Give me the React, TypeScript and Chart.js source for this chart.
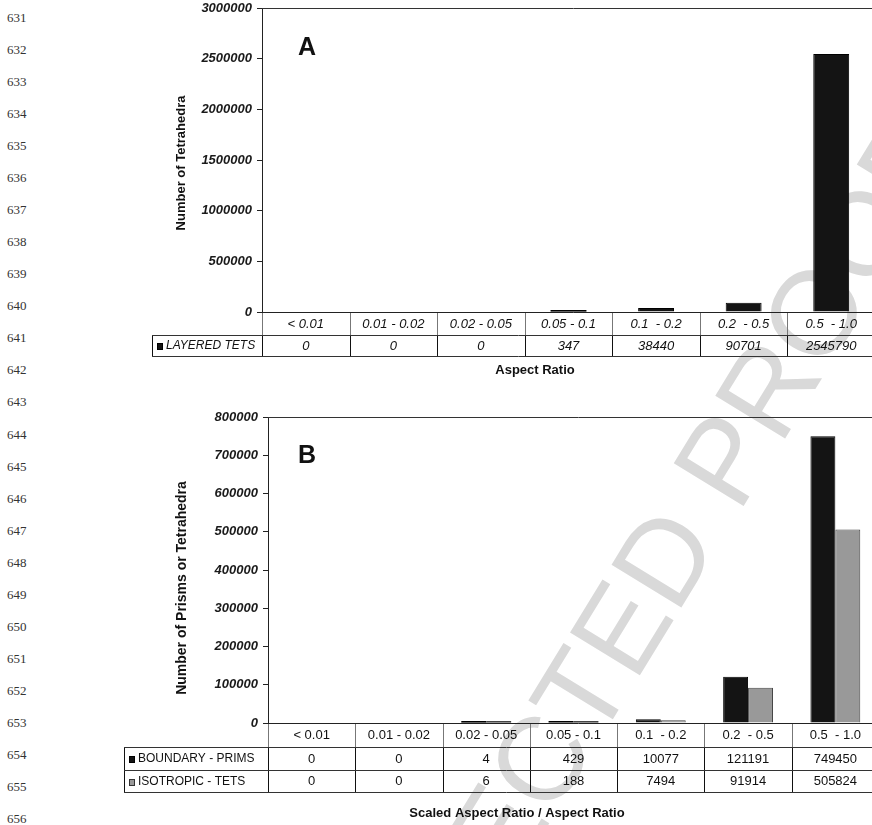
import React, { useEffect, useRef } from "react";
import { Chart, registerables } from "chart.js";

Chart.register(...registerables);

const FONT = '"Liberation Sans", Arial, Helvetica, sans-serif';

// ---------- data ----------
const categoriesA = ["< 0.01", "0.01 - 0.02", "0.02 - 0.05", "0.05 - 0.1", "0.1  - 0.2", "0.2  - 0.5", "0.5  - 1.0"];
const layeredTets = [0, 0, 0, 347, 38440, 90701, 2545790];

const categoriesB = ["< 0.01", "0.01 - 0.02", "0.02 - 0.05", "0.05 - 0.1", "0.1  - 0.2", "0.2  - 0.5", "0.5  - 1.0"];
const boundaryPrims = [0, 0, 4, 429, 10077, 121191, 749450];
const isotropicTets = [0, 0, 6, 188, 7494, 91914, 505824];

const yMaxA = 3000000;
const yStepA = 500000;
const yMaxB = 800000;
const yStepB = 100000;

const lineNumbers = [631, 632, 633, 634, 635, 636, 637, 638, 639, 640, 641, 642, 643, 644, 645, 646, 647, 648, 649, 650, 651, 652, 653, 654, 655, 656];
const watermarkText = "CORRECTED PROOF";

// ---------- helpers ----------
type TableRow = { label: string; swatch: string; swatchBorder: string; values: number[] };
type PanelCfg = {
  categories: string[];
  rows: TableRow[];
  rowHeights: number[];
  legendLeft: number;
  cellFont: string;
  legendFont: string;
  xTitle: string;
  xTitleX: number;
  xTitleY: number;
  yTitle: string;
  yTitleX: number;
  yTitleY: number;
  yTitleFont: string;
  panel: string;
  panelX: number;
  panelBaseline: number;
};

function hline(ctx: CanvasRenderingContext2D, x1: number, x2: number, y: number, color: string, w = 1) {
  ctx.save();
  ctx.strokeStyle = color;
  ctx.lineWidth = w;
  ctx.beginPath();
  const yy = Math.round(y) + (w % 2 ? 0.5 : 0);
  ctx.moveTo(x1, yy);
  ctx.lineTo(x2, yy);
  ctx.stroke();
  ctx.restore();
}
function vline(ctx: CanvasRenderingContext2D, x: number, y1: number, y2: number, color: string, w = 1) {
  ctx.save();
  ctx.strokeStyle = color;
  ctx.lineWidth = w;
  ctx.beginPath();
  const xx = Math.round(x) + (w % 2 ? 0.5 : 0);
  ctx.moveTo(xx, y1);
  ctx.lineTo(xx, y2);
  ctx.stroke();
  ctx.restore();
}

function panelPlugin(cfg: PanelCfg) {
  return {
    id: "panelTable",
    afterDatasetsDraw(chart: any) {
      const ctx: CanvasRenderingContext2D = chart.ctx;
      chart.data.datasets.forEach((ds: any, di: number) => {
        const meta = chart.getDatasetMeta(di);
        meta.data.forEach((el: any, i: number) => {
          const v = ds.data[i];
          const p = el.getProps(["x", "y", "base", "width"], true);
          if (v > 0 && Math.abs(p.base - p.y) < 1.5) {
            ctx.save();
            ctx.fillStyle = ds.borderColor;
            ctx.fillRect(p.x - p.width / 2, p.base - 1.5, p.width, 1.5);
            ctx.restore();
          }
        });
      });
    },
    afterDraw(chart: any) {
      const ctx: CanvasRenderingContext2D = chart.ctx;
      const { left, right, top, bottom } = chart.chartArea;
      const xs = chart.scales.x;
      const n = cfg.categories.length;
      const cw = xs.getPixelForValue(1) - xs.getPixelForValue(0);
      const edges: number[] = [];
      for (let i = 0; i < n; i++) edges.push(xs.getPixelForValue(i) - cw / 2);
      edges.push(xs.getPixelForValue(n - 1) + cw / 2);

      // frame top
      hline(ctx, left, right + 10, top, "#333");

      const ys = [bottom];
      cfg.rowHeights.forEach((h) => ys.push(ys[ys.length - 1] + h));
      const last = ys[ys.length - 1];

      // verticals
      edges.forEach((x) => {
        vline(ctx, x, ys[0], ys[1], "#777");
        vline(ctx, x, ys[1], last, "#111");
      });
      vline(ctx, cfg.legendLeft, ys[1], last, "#111");
      // horizontals
      hline(ctx, left - 0.5, right + 10, ys[0], "#222");
      for (let r = 1; r < ys.length; r++) hline(ctx, cfg.legendLeft, right + 10, ys[r], "#333");

      ctx.save();
      ctx.fillStyle = "#111";
      ctx.textAlign = "center";
      ctx.textBaseline = "middle";
      ctx.font = cfg.cellFont;
      cfg.categories.forEach((c, i) => {
        ctx.fillText(c, xs.getPixelForValue(i), (ys[0] + ys[1]) / 2 + 0.5);
      });
      cfg.rows.forEach((row, r) => {
        const cy = (ys[r + 1] + ys[r + 2]) / 2 + 0.5;
        row.values.forEach((v, i) => {
          ctx.fillText(String(v), xs.getPixelForValue(i), cy);
        });
        // legend
        ctx.fillStyle = row.swatch;
        ctx.fillRect(cfg.legendLeft + 5, Math.round(cy) - 3, 6, 7);
        ctx.strokeStyle = row.swatchBorder;
        ctx.lineWidth = 1;
        ctx.strokeRect(cfg.legendLeft + 5.5, Math.round(cy) - 2.5, 5, 6);
        ctx.fillStyle = "#111";
        ctx.textAlign = "left";
        ctx.font = cfg.legendFont;
        ctx.fillText(row.label, cfg.legendLeft + 14, cy);
        ctx.textAlign = "center";
        ctx.font = cfg.cellFont;
      });

      // x title
      ctx.font = `bold 13px ${FONT}`;
      ctx.fillText(cfg.xTitle, cfg.xTitleX, cfg.xTitleY);

      // y title
      ctx.save();
      ctx.translate(cfg.yTitleX, cfg.yTitleY);
      ctx.rotate(-Math.PI / 2);
      ctx.font = cfg.yTitleFont;
      ctx.fillText(cfg.yTitle, 0, 0);
      ctx.restore();

      // panel letter
      ctx.textAlign = "left";
      ctx.textBaseline = "alphabetic";
      ctx.font = `bold 25px ${FONT}`;
      ctx.fillText(cfg.panel, cfg.panelX, cfg.panelBaseline);
      ctx.restore();
    },
  };
}

function yScale(max: number, step: number, width: number) {
  return {
    min: 0,
    max,
    ticks: {
      stepSize: step,
      font: { family: FONT, size: 13, style: "italic" as const, weight: "bold" as const },
      color: "#1a1a1a",
      padding: 5,
      callback: (v: any) => String(v),
    },
    grid: { drawOnChartArea: false, drawTicks: true, tickLength: 5, color: "#222", lineWidth: 1 },
    border: { display: true, color: "#222", width: 1 },
    afterFit: (s: any) => {
      s.width = width;
      s.paddingTop = 0;
      s.paddingBottom = 0;
    },
  };
}

export default function App() {
  const refA = useRef<HTMLCanvasElement>(null);
  const refB = useRef<HTMLCanvasElement>(null);

  useEffect(() => {
    const cfgA: PanelCfg = {
      categories: categoriesA,
      rows: [{ label: "LAYERED TETS", swatch: "#141414", swatchBorder: "#000", values: layeredTets }],
      rowHeights: [23, 21],
      legendLeft: 152,
      cellFont: `italic 13px ${FONT}`,
      legendFont: `italic 12px ${FONT}`,
      xTitle: "Aspect Ratio",
      xTitleX: 535,
      xTitleY: 370,
      yTitle: "Number of Tetrahedra",
      yTitleX: 181,
      yTitleY: 163,
      yTitleFont: `bold 13px ${FONT}`,
      panel: "A",
      panelX: 298,
      panelBaseline: 55,
    };
    const chartA = new Chart(refA.current as HTMLCanvasElement, {
      type: "bar",
      data: {
        labels: categoriesA,
        datasets: [
          {
            label: "LAYERED TETS",
            data: layeredTets,
            backgroundColor: "#141414",
            borderColor: "#000000",
            borderWidth: 1,
            barPercentage: 0.41,
            categoryPercentage: 1,
          },
        ],
      },
      options: {
        responsive: false,
        animation: false,
        layout: { padding: { left: 169, right: 25, top: 8, bottom: 88 } },
        plugins: { legend: { display: false }, tooltip: { enabled: false } },
        scales: {
          x: { display: false },
          y: yScale(yMaxA, yStepA, 93) as any,
        },
      },
      plugins: [panelPlugin(cfgA)],
    });

    const cfgB: PanelCfg = {
      categories: categoriesB,
      rows: [
        { label: "BOUNDARY - PRIMS", swatch: "#141414", swatchBorder: "#000", values: boundaryPrims },
        { label: "ISOTROPIC - TETS", swatch: "#999999", swatchBorder: "#333", values: isotropicTets },
      ],
      rowHeights: [24, 23, 22],
      legendLeft: 124,
      cellFont: `13px ${FONT}`,
      legendFont: `12px ${FONT}`,
      xTitle: "Scaled Aspect Ratio / Aspect Ratio",
      xTitleX: 517,
      xTitleY: 413,
      yTitle: "Number of Prisms or Tetrahedra",
      yTitleX: 182,
      yTitleY: 188,
      yTitleFont: `bold 14px ${FONT}`,
      panel: "B",
      panelX: 298,
      panelBaseline: 63,
    };
    const chartB = new Chart(refB.current as HTMLCanvasElement, {
      type: "bar",
      data: {
        labels: categoriesB,
        datasets: [
          {
            label: "BOUNDARY - PRIMS",
            data: boundaryPrims,
            backgroundColor: "#141414",
            borderColor: "#000000",
            borderWidth: 1,
            barPercentage: 1,
            categoryPercentage: 0.571,
          },
          {
            label: "ISOTROPIC - TETS",
            data: isotropicTets,
            backgroundColor: "#999999",
            borderColor: "#444444",
            borderWidth: 1,
            barPercentage: 1,
            categoryPercentage: 0.571,
          },
        ],
      },
      options: {
        responsive: false,
        animation: false,
        layout: { padding: { left: 170, right: 21, top: 17, bottom: 102 } },
        plugins: { legend: { display: false }, tooltip: { enabled: false } },
        scales: {
          x: { display: false },
          y: yScale(yMaxB, yStepB, 98) as any,
        },
      },
      plugins: [panelPlugin(cfgB)],
    });

    return () => {
      chartA.destroy();
      chartB.destroy();
    };
  }, []);

  // watermark geometry
  const F = 119;
  const theta = -58.5;
  const originX = 291.5;
  const originY = 1163;

  return (
    <div
      style={{
        position: "absolute",
        left: 0,
        top: 0,
        width: 872,
        height: 825,
        overflow: "hidden",
        background: "#ffffff",
      }}
    >
      <div
        style={{
          position: "absolute",
          left: originX,
          top: originY - F / 2,
          fontFamily: FONT,
          fontSize: F,
          lineHeight: `${F}px`,
          color: "#d9d9d9",
          whiteSpace: "pre",
          transformOrigin: `0px ${F / 2}px`,
          transform: `rotate(${theta}deg)`,
          zIndex: 0,
        }}
      >
        {watermarkText}
      </div>
      {lineNumbers.map((n, i) => (
        <div
          key={n}
          style={{
            position: "absolute",
            left: 7,
            top: 18 + i * 32.04 - 8,
            height: 16,
            lineHeight: "16px",
            fontFamily: '"Liberation Serif", "Times New Roman", serif',
            fontSize: 13,
            color: "#333",
            zIndex: 1,
          }}
        >
          {n}
        </div>
      ))}
      <canvas
        ref={refA}
        width={900}
        height={400}
        style={{ position: "absolute", left: 0, top: 0, width: 900, height: 400, zIndex: 2 }}
      />
      <canvas
        ref={refB}
        width={900}
        height={425}
        style={{ position: "absolute", left: 0, top: 400, width: 900, height: 425, zIndex: 2 }}
      />
    </div>
  );
}
